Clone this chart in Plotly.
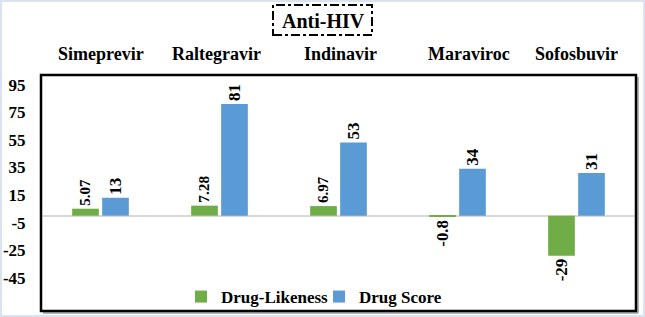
import plotly.graph_objects as go

categories = ["Simeprevir", "Raltegravir", "Indinavir", "Maraviroc", "Sofosbuvir"]
drug_likeness = [5.07, 7.28, 6.97, -0.8, -29]
drug_score = [13, 81, 53, 34, 31]
likeness_labels = ["5.07", "7.28", "6.97", "-0.8", "-29"]
score_labels = ["13", "81", "53", "34", "31"]
y_ticks = [95, 75, 55, 35, 15, -5, -25, -45]
label_shift = [0, -3, 2, 11, 0]

W, H = 645, 317
ML, MR, MT, MB = 41, 9, 75, 6
PW, PH = W - ML - MR, H - MT - MB

FONT = "Times New Roman, Liberation Serif, serif"
GREEN = "#70AD47"
BLUE = "#5B9BD5"

fig = go.Figure()
fig.add_trace(go.Bar(
    x=categories, y=drug_likeness, name="Drug-Likeness",
    marker=dict(color=GREEN, line=dict(width=0)),
    text=likeness_labels, textposition="outside", textangle=-90,
    textfont=dict(family=FONT, size=17, color="black", weight="bold"),
    cliponaxis=False,
))
fig.add_trace(go.Bar(
    x=categories, y=drug_score, name="Drug Score",
    marker=dict(color=BLUE, line=dict(width=0)),
    text=score_labels, textposition="outside", textangle=-90,
    textfont=dict(family=FONT, size=17, color="black", weight="bold"),
    cliponaxis=False,
))


def px_x(px):
    return (px - ML) / PW


def px_y(py):
    return (H - MB - py) / PH


# category labels above the plot
for c, s in zip(categories, label_shift):
    fig.add_annotation(
        x=c, xref="x", y=px_y(54), yref="paper",
        text=c, showarrow=False, xshift=s,
        font=dict(family=FONT, size=18, color="black", weight="bold"),
        xanchor="center", yanchor="middle",
    )

# title
fig.add_annotation(
    x=px_x(323.5), xref="paper", y=px_y(20.5), yref="paper",
    text="Anti-HIV", showarrow=False,
    font=dict(family=FONT, size=20, color="black", weight="bold"),
    xanchor="center", yanchor="middle",
)

shapes = [
    # page frame
    dict(type="rect", xref="paper", yref="paper",
         x0=px_x(1), x1=px_x(W - 1), y0=px_y(H - 1), y1=px_y(1),
         line=dict(color="#dbe3f1", width=2), layer="below"),
    # title dash-dot box
    dict(type="rect", xref="paper", yref="paper",
         x0=px_x(273), x1=px_x(372), y0=px_y(35), y1=px_y(5),
         line=dict(color="black", width=2, dash="dashdot")),
    # shadow of plot border
    dict(type="line", xref="paper", yref="paper",
         x0=px_x(ML + 2), x1=px_x(ML + PW + 2), y0=px_y(H - MB + 2), y1=px_y(H - MB + 2),
         line=dict(color="#9a9a9a", width=1.5)),
    dict(type="line", xref="paper", yref="paper",
         x0=px_x(ML + PW + 2), x1=px_x(ML + PW + 2), y0=px_y(H - MB + 2), y1=px_y(MT + 2),
         line=dict(color="#9a9a9a", width=1.5)),
    # plot border
    dict(type="rect", xref="paper", yref="paper", x0=0, x1=1, y0=0, y1=1,
         line=dict(color="black", width=2.5)),
]

fig.update_layout(
    width=W, height=H,
    margin=dict(l=ML, r=MR, t=MT, b=MB, autoexpand=False),
    paper_bgcolor="white", plot_bgcolor="white",
    barmode="group", bargap=0.496, bargroupgap=0.11,
    showlegend=True,
    legend=dict(
        orientation="h", x=px_x(181), y=px_y(297), xanchor="left", yanchor="middle",
        font=dict(family=FONT, size=17, color="black", weight="bold"),
        bgcolor="rgba(0,0,0,0)", itemwidth=30, traceorder="normal",
        entrywidth=93, entrywidthmode="pixels",
    ),
    shapes=shapes,
    font=dict(family=FONT, color="black"),
)
fig.update_xaxes(showticklabels=False, showgrid=False, zeroline=False, showline=False,
                 ticks="", range=[-0.5, 4.5], automargin=False)
fig.update_yaxes(
    range=[-69.1, 102.0], tickvals=y_ticks, ticktext=[str(v) for v in y_ticks],
    showgrid=False, zeroline=True, zerolinecolor="#d9d9d9", zerolinewidth=2,
    showline=False, ticks="outside", ticklen=11, tickcolor="rgba(0,0,0,0)",
    automargin=False,
    tickfont=dict(family=FONT, size=17, color="black", weight="bold"),
)

fig.write_html(
    "out.html",
    config={"displayModeBar": False},
    post_script="document.body.style.margin='0';document.body.style.overflow='hidden';",
)
